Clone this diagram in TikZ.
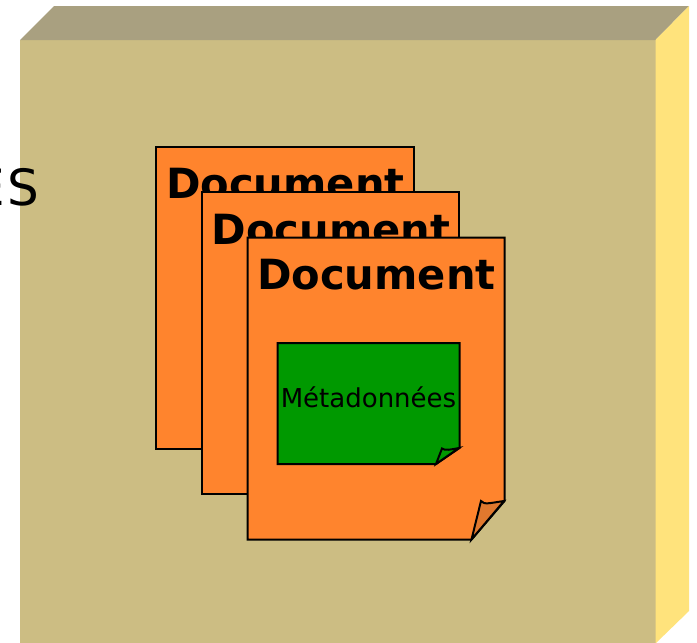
\documentclass[tikz,border=0pt]{standalone}
\usepackage{fontspec}
\setmainfont{DejaVu Sans}
\definecolor{cubefront}{HTML}{CCBD83}
\definecolor{cubetop}{HTML}{A9A080}
\definecolor{cubeside}{HTML}{FFE37C}
\definecolor{docorange}{HTML}{FF842D}
\definecolor{foldorange}{HTML}{E0782E}
\definecolor{metagreen}{HTML}{009900}
\tikzset{
  docsheet/.style={draw=black,line width=2pt,line join=miter,fill=docorange},
  foldsheet/.style={draw=black,line width=2pt,line join=miter},
  doctitle/.style={anchor=base west,inner sep=0pt,font=\fontsize{41.6}{41.6}\selectfont\bfseries},
  metatext/.style={anchor=base,inner sep=0pt,font=\fontsize{26}{26}\selectfont},
  cubelabel/.style={anchor=base east,inner sep=0pt,font=\fontsize{50}{50}\selectfont}
}
\begin{document}
\begin{tikzpicture}[x=1pt,y=-1pt]
\useasboundingbox (0,0) rectangle (697,643);
\clip (0,0) rectangle (697,643);
\fill[cubefront] (20,40) rectangle (655.5,643);
\fill[cubetop] (20,40) -- (54,6) -- (689,6) -- (655.5,40) -- cycle;
\fill[cubeside] (655.5,40) -- (689,6) -- (689,611) -- (656,643) -- (655.5,643) -- cycle;
\node[cubelabel] (label) at (39,205) {E\kern1.5pt S};
% document 1
\draw[docsheet] (156,146.5) rectangle (413.5,448.5);
\node[doctitle] (title1) at (166,198.5) {Document};
% document 2
\draw[docsheet] (202,191.5) rectangle (459,494);
\node[doctitle] (title2) at (211.5,244) {Document};
% document 3
\draw[docsheet] (247.5,237.5) -- (504.5,237.5) -- (504.5,501) -- (471.5,539.5) -- (247.5,539.5) -- cycle;
\node[doctitle] (title3) at (257,289.5) {Document};
\draw[foldsheet,fill=foldorange] (471.5,539.5) -- (481,501) .. controls (484,505) and (490,503) .. (504,501) -- cycle;
% metadata
\draw[docsheet,fill=metagreen] (277.5,343) -- (459.5,343) -- (459.5,448) -- (436,464) -- (277.5,464) -- cycle;
\draw[foldsheet,fill=metagreen] (436,464) -- (442,448.5) .. controls (445,451) and (451,449.5) .. (459,448) -- cycle;
\node[metatext] (meta) at (368.5,407) {Métadonnées};
\end{tikzpicture}
\end{document}
